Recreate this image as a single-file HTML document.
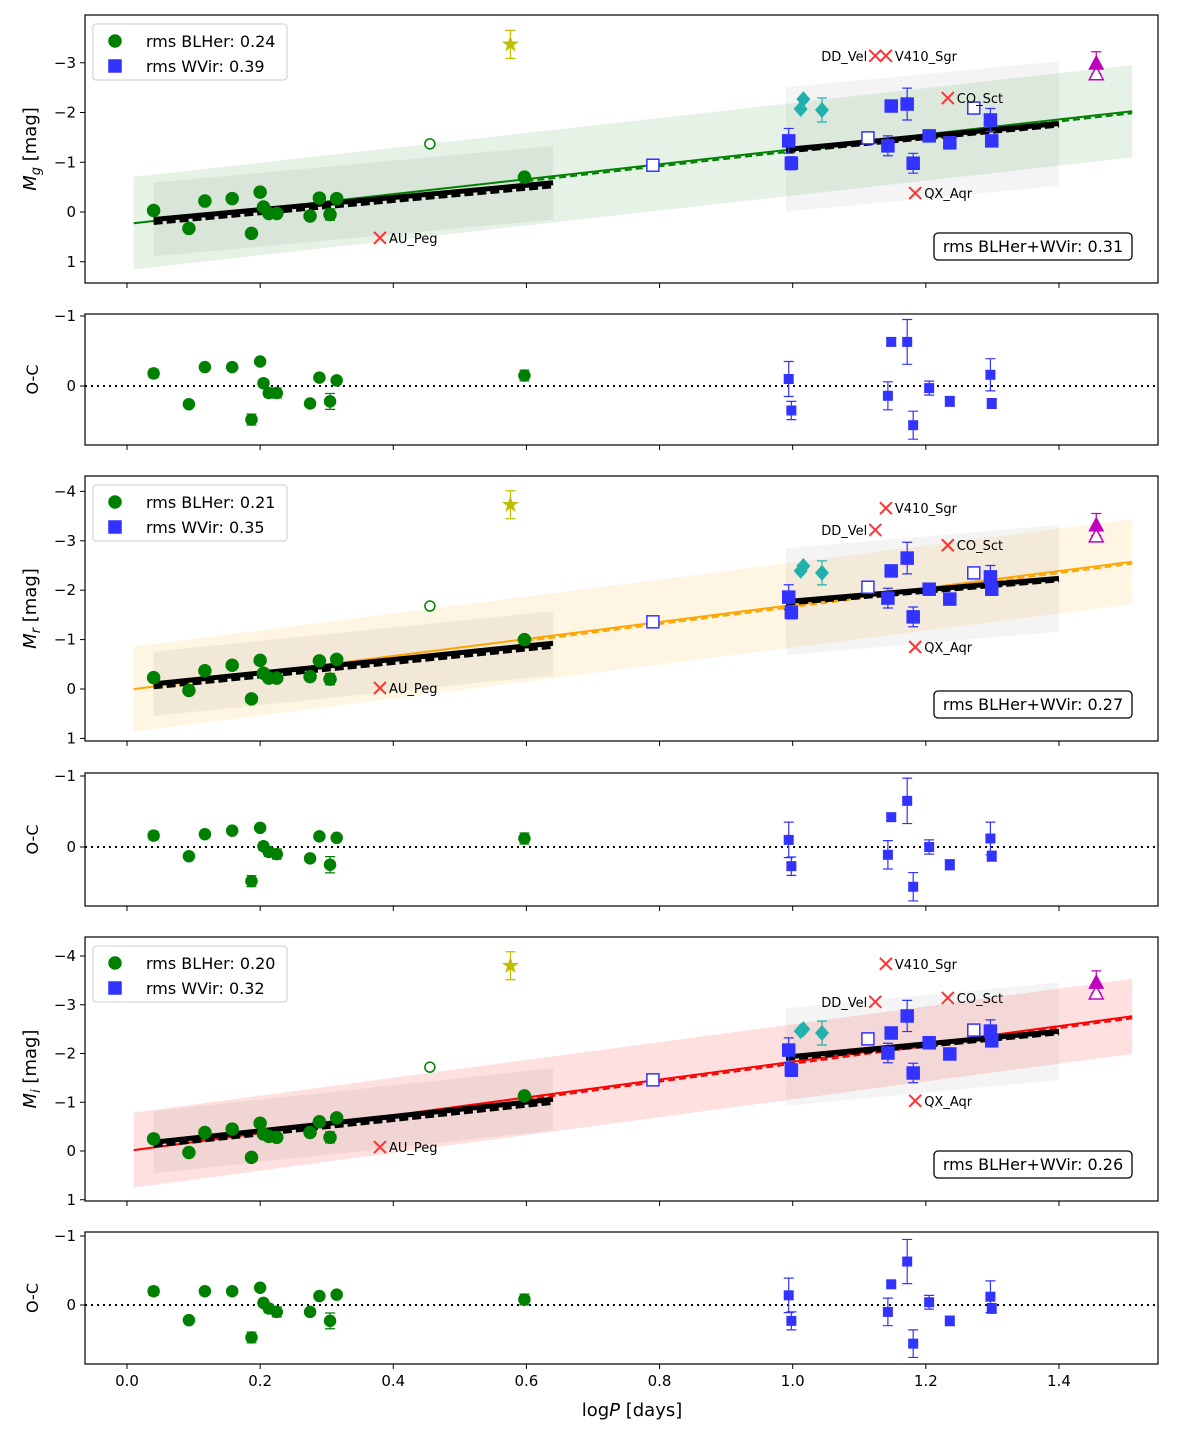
<!DOCTYPE html>
<html><head><meta charset="utf-8"><style>
body{margin:0;background:#fff;width:1200px;height:1440px;overflow:hidden}
svg text{font-family:"DejaVu Sans","Liberation Sans",sans-serif}
</style></head><body>
<svg id="fig" width="1200" height="1440" xmlns="http://www.w3.org/2000/svg"></svg>
<script>
// ---- data ----
const blLogP=[0.04,0.093,0.117,0.158,0.187,0.2,0.205,0.213,0.225,0.275,0.289,0.305,0.315,0.597];
const blErr=[0.1,0.02,0.04,0.04,0.13,0.03,0.09,0.1,0.12,0.07,0.04,0.19,0.04,0.13];
const wvLogP=[0.994,0.998,1.148,1.172,1.143,1.181,1.205,1.236,1.297,1.299];
const wvErr=[0.25,0.13,0.05,0.32,0.2,0.2,0.1,0.07,0.23,0.07];
const openSqLogP=[0.79,1.113,1.272];
const diaLogP=[1.016,1.012,1.044];
const xTicks=[0.0,0.2,0.4,0.6,0.8,1.0,1.2,1.4];
const xTickLabels=["0.0","0.2","0.4","0.6","0.8","1.0","1.2","1.4"];
const xNames=["DD_Vel","V410_Sgr","CO_Sct","QX_Aqr","AU_Peg"];
const xNameLogP=[1.124,1.14,1.233,1.184,0.38];

const gBL=[-0.03,0.33,-0.22,-0.27,0.43,-0.4,-0.1,0.03,0.03,0.08,-0.28,0.05,-0.27,-0.7];
const gWV=[-1.43,-0.98,-2.13,-2.17,-1.33,-0.98,-1.53,-1.39,-1.85,-1.43];
const gOpenSq=[-0.94,-1.49,-2.09];
const gDia=[-2.27,-2.07,-2.05];
const gX=[-3.14,-3.14,-2.29,-0.38,0.52];
const gOC_BL=[-0.18,0.26,-0.27,-0.27,0.48,-0.35,-0.04,0.1,0.1,0.25,-0.12,0.22,-0.08,-0.15];
const gOC_WV=[-0.1,0.35,-0.63,-0.63,0.14,0.56,0.03,0.22,-0.16,0.25];

const rBL=[-0.23,0.03,-0.37,-0.48,0.2,-0.58,-0.32,-0.22,-0.22,-0.25,-0.57,-0.2,-0.6,-1.0];
const rWV=[-1.86,-1.55,-2.39,-2.65,-1.84,-1.46,-2.02,-1.82,-2.27,-2.02];
const rOpenSq=[-1.36,-2.06,-2.35];
const rDia=[-2.49,-2.39,-2.35];
const rX=[-3.22,-3.66,-2.91,-0.85,-0.02];
const rOC_BL=[-0.16,0.13,-0.18,-0.23,0.48,-0.27,-0.01,0.07,0.1,0.16,-0.15,0.25,-0.13,-0.12];
const rOC_WV=[-0.1,0.27,-0.42,-0.65,0.11,0.56,0.0,0.25,-0.12,0.13];

const iBL=[-0.25,0.03,-0.38,-0.45,0.13,-0.57,-0.35,-0.3,-0.28,-0.38,-0.6,-0.28,-0.68,-1.13];
const iWV=[-2.07,-1.66,-2.42,-2.77,-2.01,-1.6,-2.22,-1.99,-2.46,-2.26];
const iOpenSq=[-1.46,-2.3,-2.48];
const iDia=[-2.5,-2.46,-2.42];
const iX=[-3.06,-3.84,-3.14,-1.03,-0.08];
const iOC_BL=[-0.2,0.22,-0.2,-0.2,0.47,-0.25,-0.03,0.05,0.1,0.1,-0.13,0.23,-0.15,-0.08];
const iOC_WV=[-0.14,0.23,-0.3,-0.63,0.1,0.56,-0.04,0.23,-0.12,0.05];

// fits: [intercept, slope, halfwidth]
const gFit=[0.24,-1.5,0.93], rFit=[0.02,-1.72,0.86], iFit=[0.0,-1.83,0.77];
const gBLfit=[0.2,-1.23,0.74], rBLfit=[-0.05,-1.37,0.65], iBLfit=[-0.12,-1.47,0.64];
const gWVfit=[0.0,-1.27,1.25], rWVfit=[-0.63,-1.15,1.08], iWVfit=[-0.65,-1.29,1.0];
const starVal=[-3.37,-3.73,-3.8], openCirc=[-1.37,-1.68,-1.72];
const triFilled=[-3.0,-3.33,-3.47], triOpen=[-2.78,-3.1,-3.24];
const rmsBL=["0.24","0.21","0.20"], rmsWV=["0.39","0.35","0.32"], rmsAll=["0.31","0.27","0.26"];

// ---- drawing ----
const NS="http://www.w3.org/2000/svg", svg=document.getElementById('fig');
const L=85,R=1158;
const X=v=>127+(v)*665.7;
function el(tag,attrs,parent){const e=document.createElementNS(NS,tag);for(const k in attrs)e.setAttribute(k,attrs[k]);(parent||svg).appendChild(e);return e;}
function txt(s,attrs,parent){const e=el('text',attrs,parent);e.textContent=s;return e;}

function errbar(g,x,y1,y2,col){
 const e=el('path',{d:`M${x},${y1}V${y2}M${x-5},${y1}H${x+5}M${x-5},${y2}H${x+5}`,stroke:col,'stroke-width':1.2,fill:'none'},g);
 
}
function band(g,fit,x0,x1,fill,Y){
 const p=el('polygon',{points:`${X(x0)},${Y(fit[0]+fit[1]*x0-fit[2])} ${X(x1)},${Y(fit[0]+fit[1]*x1-fit[2])} ${X(x1)},${Y(fit[0]+fit[1]*x1+fit[2])} ${X(x0)},${Y(fit[0]+fit[1]*x0+fit[2])}`,fill:fill},g);
 
}
function fline(g,fit,x0,x1,col,w,dash,Y,off){
 off=off||0;
 const l=el('line',{x1:X(x0),y1:Y(fit[0]+fit[1]*x0)+off,x2:X(x1),y2:Y(fit[0]+fit[1]*x1)+off,stroke:col,'stroke-width':w},g);
 if(dash)l.setAttribute('stroke-dasharray',dash);
 
}
function frame(g,top,bot,showXLabels){
 const r=el('rect',{x:L,y:top,width:R-L,height:bot-top,fill:'none',stroke:'#000','stroke-width':1.2},g);
 
 xTicks.forEach((t,i)=>{
  const tk=el('line',{x1:X(t),x2:X(t),y1:bot,y2:bot+5,stroke:'#000','stroke-width':1},g);
  
  if(showXLabels){const tl=txt(xTickLabels[i],{x:X(t),y:bot+22,'font-size':15,'text-anchor':'middle'},g);
   }
 });
}
function yticks(g,Y,ticks){
 ticks.forEach(t=>{
  const tk=el('line',{x1:L-5,x2:L,y1:Y(t),y2:Y(t),stroke:'#000','stroke-width':1},g);
  
  const tl=txt(t<0?'\u2212'+(-t):String(t),{x:L-9,y:Y(t)+5,'font-size':15,'text-anchor':'end'},g);
  
 });
}
function circle(g,x,y,col,open,r){const c=el('circle',{cx:x,cy:y,r:r||6,fill:open?'#fff':col,stroke:col,'stroke-width':1.5},g);return c;}
function square(g,x,y,col,open){return el('rect',{x:x-6,y:y-6,width:12,height:12,fill:open?'#fff':col,stroke:col,'stroke-width':1.5},g);}

function mainPanel(idx,top,bot,y0,ppm,BL,WV,OS,DI,XS,fit,blf,wvf,fcol,fillcol,sub){
 const g=el('g',{});
 const Y=v=>y0+v*ppm;
 const cl=el('clipPath',{id:'c'+idx},g);el('rect',{x:L,y:top,width:R-L,height:bot-top},cl);
 const inner=el('g',{'clip-path':`url(#c${idx})`},g);
 band(inner,fit,0.01,1.51,fillcol,Y);
 band(inner,blf,0.04,0.64,'rgba(120,120,120,0.10)',Y);
 band(inner,wvf,0.99,1.40,'rgba(120,120,120,0.08)',Y);
 fline(inner,fit,0.01,1.51,fcol,2,null,Y);
 fline(inner,fit,0.6,1.51,fcol,2,'7,4',Y,2);
 fline(inner,blf,0.04,0.64,'#000',5,null,Y);
 fline(inner,blf,0.04,0.64,'#000',5,'9,4',Y,3);
 fline(inner,wvf,0.99,1.40,'#000',5,null,Y);
 fline(inner,wvf,0.99,1.40,'#000',4,'9,4',Y,2);
 BL.forEach((v,i)=>{errbar(inner,X(blLogP[i]),Y(v-blErr[i]*0.6),Y(v+blErr[i]*0.6),'#008000');
  const c=circle(inner,X(blLogP[i]),Y(v),'#008000');});
 WV.forEach((v,i)=>{errbar(inner,X(wvLogP[i]),Y(v-wvErr[i]),Y(v+wvErr[i]),'#3333ff');
  const s=square(inner,X(wvLogP[i]),Y(v),'#3333ff');});
 OS.forEach((v,i)=>{const s=square(inner,X(openSqLogP[i]),Y(v),'#3333ff',true);});
 DI.forEach((v,i)=>{const x=X(diaLogP[i]),y=Y(v);if(i==2)errbar(inner,x,y-12,y+12,'#20b2aa');
  const d=el('polygon',{points:`${x},${y-8} ${x+7},${y} ${x},${y+8} ${x-7},${y}`,fill:'#20b2aa'},inner);});
 const oc=circle(inner,X(0.455),Y(openCirc[idx]),'#008000',true,5);
 const sx=X(0.576),sy=Y(starVal[idx]);errbar(inner,sx,sy-14,sy+14,'#bfbf00');
 let pts=[];for(let k=0;k<10;k++){const a=-Math.PI/2+k*Math.PI/5,rr=k%2?3.5:9;pts.push((sx+rr*Math.cos(a)).toFixed(1)+','+(sy+rr*Math.sin(a)).toFixed(1));}
 const st=el('polygon',{points:pts.join(' '),fill:'#bfbf00'},inner);
 const tx=X(1.456),tf=Y(triFilled[idx]),to=Y(triOpen[idx]);errbar(inner,tx,tf-11,tf+11,'#bf00bf');
 const t2=el('polygon',{points:`${tx},${to-7} ${tx+7},${to+6} ${tx-7},${to+6}`,fill:'#fff',stroke:'#bf00bf','stroke-width':1.5},inner);
 const t1=el('polygon',{points:`${tx},${tf-8} ${tx+8},${tf+7} ${tx-8},${tf+7}`,fill:'#bf00bf'},inner);
 XS.forEach((v,i)=>{const x=X(xNameLogP[i]),y=Y(v);
  const m=el('path',{d:`M${x-6},${y-6}L${x+6},${y+6}M${x-6},${y+6}L${x+6},${y-6}`,stroke:'#ff3333','stroke-width':2},inner);
  
  const lt=i==0?txt(xNames[i],{x:x-8,y:y+5,'font-size':13,'text-anchor':'end'},inner):txt(xNames[i],{x:x+9,y:y+5,'font-size':13},inner);
  });
 frame(g,top,bot,false);
 const ticks=idx==0?[-3,-2,-1,0,1]:[-4,-3,-2,-1,0,1];yticks(g,Y,ticks);
 const yl=txt('',{transform:`translate(36,${(top+bot)/2}) rotate(-90)`,'font-size':18,'text-anchor':'middle'},g);
 yl.innerHTML=`<tspan font-style="italic">M</tspan><tspan font-style="italic" font-size="13" dy="4">${sub}</tspan><tspan dy="-4"> [mag]</tspan>`;
 
 // legend
 const lg=el('g',{},g);
 el('rect',{x:93,y:top+9,width:194,height:56,rx:3,fill:'#fff','fill-opacity':0.85,stroke:'#ccc'},lg);
 const e1=el('g',{},lg);
 circle(e1,115,top+26,'#008000');txt('rms BLHer: '+rmsBL[idx],{x:146,y:top+32,'font-size':16},e1);
 const e2=el('g',{},lg);
 square(e2,115,top+51,'#3333ff');txt('rms WVir: '+rmsWV[idx],{x:146,y:top+57,'font-size':16},e2);
 const rb=el('g',{},g);
 el('rect',{x:934,y:bot-50,width:198,height:27,rx:4,fill:'#fff',stroke:'#000','stroke-width':1.3},rb);
 txt('rms BLHer+WVir: '+rmsAll[idx],{x:1033,y:bot-31,'font-size':16,'text-anchor':'middle'},rb);
}
function ocPanel(idx,top,bot,y0,ppu,BL,WV){
 const g=el('g',{});
 const Y=v=>y0+v*ppu;
 const z=el('line',{x1:L,x2:R,y1:Y(0),y2:Y(0),stroke:'#000','stroke-width':2,'stroke-dasharray':'2,4'},g);
 
 BL.forEach((v,i)=>{errbar(g,X(blLogP[i]),Y(v-blErr[i]*0.6),Y(v+blErr[i]*0.6),'#008000');
  const c=circle(g,X(blLogP[i]),Y(v),'#008000',false,5.5);});
 WV.forEach((v,i)=>{errbar(g,X(wvLogP[i]),Y(v-wvErr[i]),Y(v+wvErr[i]),'#3333ff');
  const s=el('rect',{x:X(wvLogP[i])-5,y:Y(v)-5,width:10,height:10,fill:'#3333ff'},g);});
 frame(g,top,bot,idx==2);yticks(g,Y,[-1,0]);
 const yl=txt('O-C',{transform:`translate(38,${(top+bot)/2}) rotate(-90)`,'font-size':16,'text-anchor':'middle'},g);
 
}
mainPanel(0,15,283,212,49.75,gBL,gWV,gOpenSq,gDia,gX,gFit,gBLfit,gWVfit,'#008000','rgba(0,128,0,0.10)','g');
ocPanel(0,314,445,386,70,gOC_BL,gOC_WV);
mainPanel(1,476,741,689,49.4,rBL,rWV,rOpenSq,rDia,rX,rFit,rBLfit,rWVfit,'#ffa500','rgba(255,165,0,0.11)','r');
ocPanel(1,773,906,847,71,rOC_BL,rOC_WV);
mainPanel(2,937,1201,1151,48.75,iBL,iWV,iOpenSq,iDia,iX,iFit,iBLfit,iWVfit,'#ff0000','rgba(255,0,0,0.12)','i');
ocPanel(2,1232,1364,1305,69,iOC_BL,iOC_WV);
const xl=txt('',{x:632,y:1416,'font-size':18,'text-anchor':'middle'});
xl.innerHTML='log<tspan font-style="italic">P</tspan> [days]';


</script>
</body></html>
